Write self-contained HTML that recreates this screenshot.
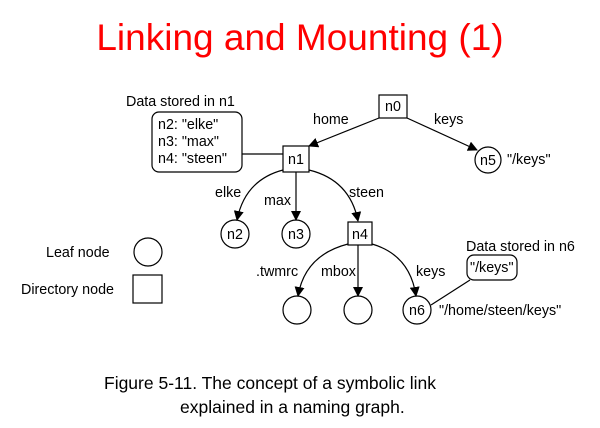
<!DOCTYPE html>
<html><head><style>
body{margin:0;background:#fff;width:600px;height:423px;overflow:hidden;font-family:"Liberation Sans",sans-serif}
</style></head><body>
<svg width="600" height="423" xmlns="http://www.w3.org/2000/svg" font-family="Liberation Sans, sans-serif">
<defs><marker id="a" markerWidth="10" markerHeight="10" refX="9" refY="5" orient="auto" markerUnits="userSpaceOnUse"><path d="M0,0 L10,5 L0,10 z" fill="#000"/></marker></defs>
<text x="300" y="50" text-anchor="middle" font-size="37" fill="#f00">Linking and Mounting (1)</text>
<g stroke="#000" stroke-width="1.2" fill="none">
<rect x="379" y="95" width="28" height="23" fill="#fff"/>
<rect x="283" y="146" width="26" height="26" fill="#fff"/>
<rect x="348" y="222" width="24" height="23" fill="#fff"/>
<rect x="152" y="112" width="90" height="60" rx="7"/>
<rect x="467" y="255" width="50" height="25" rx="7"/>
<circle cx="488" cy="160" r="13"/>
<circle cx="235" cy="234" r="14"/>
<circle cx="296" cy="234" r="14"/>
<circle cx="297" cy="310" r="14"/>
<circle cx="358" cy="310" r="14"/>
<circle cx="417" cy="310" r="14"/>
<circle cx="148" cy="252" r="14"/>
<rect x="133" y="275" width="29" height="28"/>
<line x1="242" y1="154" x2="283" y2="154"/>
<line x1="470" y1="280" x2="431" y2="305"/>
<line x1="379" y1="118" x2="309" y2="146" marker-end="url(#a)"/>
<line x1="407" y1="118" x2="477" y2="150" marker-end="url(#a)"/>
<line x1="296" y1="172" x2="296" y2="220" marker-end="url(#a)"/>
<path d="M283,170 Q245,180 237,220" marker-end="url(#a)"/>
<path d="M309,170 Q350,180 358,221" marker-end="url(#a)"/>
<line x1="358" y1="245" x2="358" y2="296" marker-end="url(#a)"/>
<path d="M348,244 Q305,255 298,296" marker-end="url(#a)"/>
<path d="M372,244 Q410,255 416,296" marker-end="url(#a)"/>
</g>
<g font-size="14.3" fill="#000">
<text x="393" y="111" text-anchor="middle">n0</text>
<text x="296" y="164" text-anchor="middle">n1</text>
<text x="360" y="239" text-anchor="middle">n4</text>
<text x="488" y="165" text-anchor="middle">n5</text>
<text x="235" y="239" text-anchor="middle">n2</text>
<text x="296" y="239" text-anchor="middle">n3</text>
<text x="417" y="315" text-anchor="middle">n6</text>
<text x="126" y="106">Data stored in n1</text>
<text x="158" y="129">n2: "elke"</text>
<text x="158" y="146">n3: "max"</text>
<text x="158" y="163">n4: "steen"</text>
<text x="313" y="124">home</text>
<text x="434" y="124">keys</text>
<text x="507" y="164">"/keys"</text>
<text x="215" y="197">elke</text>
<text x="264" y="205">max</text>
<text x="349" y="197">steen</text>
<text x="256" y="276">.twmrc</text>
<text x="321" y="276">mbox</text>
<text x="416" y="276">keys</text>
<text x="466" y="251">Data stored in n6</text>
<text x="470" y="272">"/keys"</text>
<text x="439" y="315">"/home/steen/keys"</text>
<text x="46" y="257">Leaf node</text>
<text x="21" y="294">Directory node</text>
</g>
<text x="104" y="389" font-size="17.5">Figure 5-11. The concept of a symbolic link</text>
<text x="180" y="413" font-size="17.5">explained in a naming graph.</text>
</svg>
</body></html>
